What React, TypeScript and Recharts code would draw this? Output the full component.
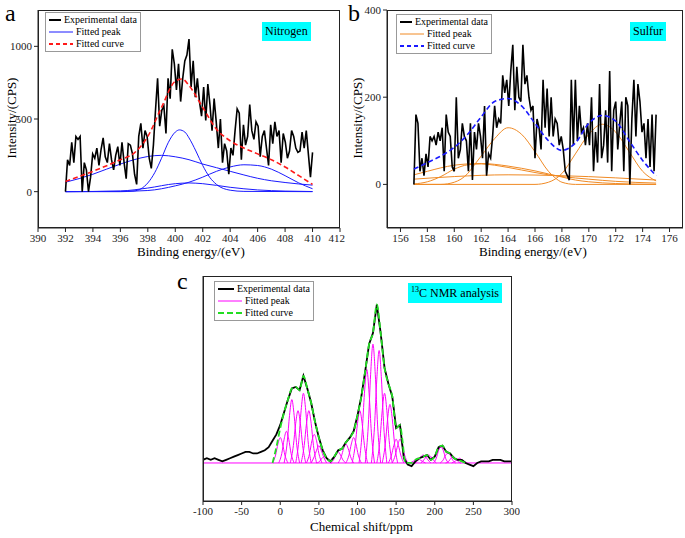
import { LineChart, Line, XAxis, YAxis, ReferenceLine } from "recharts";

const font = "'Liberation Serif', 'DejaVu Serif', serif";

// ---- panel a: nitrogen ----
const nExp = [0, 220, 180, 340, 200, 380, 360, 380, 0, 200, 150, 0, 100, 260, 230, 300, 180, 290, 370, 240, 200, 330, 220, 150, 250, 310, 180, 340, 200, 90, 330, 320, 260, 120, 50, 380, 470, 300, 420, 380, 230, 160, 320, 560, 780, 450, 560, 590, 400, 780, 640, 980, 880, 700, 880, 620, 780, 900, 940, 1050, 720, 900, 650, 780, 620, 520, 720, 490, 740, 600, 420, 640, 480, 300, 500, 200, 330, 280, 120, 300, 250, 420, 570, 540, 220, 460, 320, 380, 600, 420, 360, 480, 450, 240, 380, 420, 300, 180, 460, 330, 480, 380, 420, 200, 400, 340, 230, 280, 420, 380, 300, 270, 280, 410, 300, 420, 260, 100, 270];
const nCurve = [[392, 70], [394, 140], [396, 220], [397, 265], [398, 380], [399, 580], [400, 760], [400.5, 775], [401, 730], [402, 580], [403, 430], [404, 350], [405, 300], [406, 260], [407, 220], [408, 170], [409, 110], [410, 50]];
const nPeaks = [
  [[392, 65], [393, 90], [394, 120], [395, 155], [396, 190], [397, 220], [398, 242], [399, 250], [400, 240], [401, 220], [402, 190], [403, 165], [404, 140], [405, 115], [406, 92], [407, 75], [408, 63], [409, 53], [410, 45]],
  [[392, 0], [396, 0], [397, 5], [398, 60], [398.5, 130], [399, 230], [399.5, 340], [400, 410], [400.3, 425], [400.7, 410], [401, 370], [401.5, 280], [402, 180], [402.5, 100], [403, 50], [404, 10], [405, 2], [410, 0]],
  [[392, 0], [396, 2], [398, 8], [400, 40], [401, 65], [402, 100], [403, 140], [404, 170], [405, 185], [406, 180], [407, 155], [408, 110], [409, 60], [410, 20]],
  [[392, 0], [396, 5], [398, 25], [400, 55], [401, 60], [402, 55], [404, 30], [406, 12], [408, 4], [410, 1]],
];

// ---- panel b: sulfur ----
const sExp = [0, 160, 140, 30, 60, 20, 70, 40, 110, 100, 110, 90, 120, 100, 130, 30, 160, 120, 110, 40, 30, 200, 60, 80, 140, 110, 100, 30, 140, 10, 120, 80, 140, 110, 60, 180, 20, 70, 60, 110, 180, 130, 150, 140, 250, 210, 240, 180, 260, 320, 170, 270, 200, 190, 320, 230, 250, 200, 170, 180, 60, 150, 130, 80, 240, 130, 220, 110, 200, 110, 150, 140, 90, 110, 80, 30, 20, 10, 240, 90, 240, 100, 180, 120, 130, 90, 140, 90, 200, 30, 120, 50, 230, 60, 90, 170, 50, 260, 30, 170, 190, 80, 140, 190, 30, 200, 180, 0, 150, 240, 110, 230, 190, 120, 140, 60, 150, 40, 160, 30, 160];
const sCurve = [[157, 35], [158, 50], [159, 65], [160, 85], [161, 115], [162, 155], [163, 190], [164, 197], [165, 180], [166, 140], [167, 100], [168, 78], [169, 95], [170, 140], [171, 158], [172, 145], [173, 100], [174, 55], [175, 20]];
const sPeaks = [
  [[157, 0], [159, 0], [160, 5], [161, 25], [161.5, 45], [162, 65], [163, 105], [164, 130], [165, 115], [166, 75], [167, 30], [167.5, 15], [168, 5], [169, 0], [175, 0]],
  [[157, 0], [166, 0], [167, 5], [168, 25], [169, 70], [170, 115], [171, 138], [172, 120], [173, 75], [174, 30], [175, 8]],
  [[157, 22], [158, 30], [159, 38], [160, 44], [161, 47], [162, 48], [163, 46], [164, 42], [165, 37], [166, 31], [167, 24], [168, 17], [169, 10], [170, 6], [172, 2], [175, 0]],
  [[157, 12], [160, 18], [164, 22], [168, 20], [172, 15], [175, 10]],
  [[157, 1], [158, 6], [159, 18], [160, 35], [161, 45], [162, 47], [163, 44], [165, 33], [167, 22], [168, 18], [170, 12], [172, 7], [175, 3]],
];

// ---- panel c: 13C NMR ----
const cShift = [-100, -95, -90, -85, -80, -75, -70, -65, -60, -55, -50, -45, -40, -35, -30, -25, -20, -15, -10, -5, 0, 5, 10, 15, 20, 25, 30, 35, 40, 45, 50, 55, 60, 65, 70, 75, 80, 85, 90, 95, 100, 105, 110, 115, 120, 125, 130, 135, 140, 145, 150, 155, 160, 165, 170, 175, 180, 185, 190, 195, 200, 205, 210, 215, 220, 225, 230, 235, 240, 245, 250, 255, 260, 265, 270, 275, 280, 285, 290, 295, 300];
const cExp = [2, 3, 2, 3, 2, 1, 2, 3, 4, 5, 6, 7, 7, 6, 6, 7, 8, 10, 14, 18, 24, 32, 40, 47, 48, 46, 55, 47, 38, 26, 16, 8, 3, 1, 4, 8, 9, 13, 16, 20, 30, 42, 58, 75, 82, 100, 82, 60, 50, 42, 22, 24, 3, -1, -2, 1, 3, 4, 5, 2, 4, 10, 11, 7, 6, 3, 2, 2, 0, -1, -2, 0, 1, 1, 1, 2, 2, 2, 1, 1, 1];
const cCurve = [[-10, 0], [-5, 10], [0, 22], [5, 32], [10, 40], [15, 47], [20, 48], [25, 46], [30, 55], [35, 47], [40, 38], [45, 26], [50, 16], [55, 8], [60, 3], [65, 1], [70, 4], [75, 8], [80, 9], [85, 13], [90, 16], [95, 20], [100, 30], [105, 42], [110, 58], [115, 75], [120, 82], [125, 100], [130, 82], [135, 60], [140, 50], [145, 42], [150, 22], [155, 24], [158, 15], [162, 0], [170, 0], [175, 2], [180, 3], [185, 4], [190, 5], [195, 2], [200, 4], [205, 10], [210, 11], [215, 7], [220, 6], [225, 3], [230, 2], [235, 1], [240, 0]];
const peakOffsets = [-10, -6, -3, 0, 3, 6, 10];
const cPeaks: [number, number[]][] = [
  [0, [0, 5, 12, 16, 12, 5, 0]], [8, [0, 6, 15, 20, 15, 6, 0]], [15, [0, 13, 30, 40, 30, 13, 0]],
  [23, [0, 11, 25, 33, 25, 11, 0]], [30, [0, 14, 33, 44, 33, 14, 0]], [37, [0, 11, 25, 33, 25, 11, 0]],
  [44, [0, 6, 14, 18, 14, 6, 0]], [50, [0, 4, 8, 11, 8, 4, 0]], [57, [0, 1, 3, 4, 3, 1, 0]],
  [75, [0, 2, 5, 7, 5, 2, 0]], [85, [0, 4, 9, 12, 9, 4, 0]], [95, [0, 5, 12, 16, 12, 5, 0]],
  [103, [0, 11, 25, 33, 25, 11, 0]], [112, [0, 19, 44, 59, 44, 19, 0]], [120, [0, 24, 56, 75, 56, 24, 0]],
  [128, [0, 23, 53, 71, 53, 23, 0]], [135, [0, 14, 33, 44, 33, 14, 0]], [142, [0, 12, 28, 37, 28, 12, 0]],
  [150, [0, 5, 11, 15, 11, 5, 0]], [155, [0, 5, 11, 15, 11, 5, 0]], [178, [0, 1, 2, 3, 2, 1, 0]],
  [185, [0, 2, 4, 5, 4, 2, 0]], [192, [0, 2, 4, 5, 4, 2, 0]], [208, [0, 3, 8, 10, 8, 3, 0]],
  [217, [0, 2, 5, 6, 5, 2, 0]], [224, [0, 1, 3, 4, 3, 1, 0]], [232, [0, 1, 2, 3, 2, 1, 0]],
];

const pts = (arr: number[][]) => arr.map(([x, y]) => ({ x, y }));
const spread = (vals: number[], x0: number, x1: number) =>
  vals.map((y, i) => ({ x: x0 + ((x1 - x0) * i) / (vals.length - 1), y }));

const tickStyle = { fontSize: 11, fill: "#222", fontFamily: font };

const Legend = ({ left, top, width, items }: { left: number; top: number; width: number; items: { label: string; color: string; dash?: string; w: number }[] }) => (
  <div style={{ position: "absolute", left, top, width, border: "1px solid #999", background: "#fff", padding: "1px 3px", fontFamily: font, fontSize: 10, lineHeight: "12px", whiteSpace: "nowrap" }}>
    {items.map((it) => (
      <div key={it.label} style={{ display: "flex", alignItems: "center", gap: 3 }}>
        <svg width={24} height={8}><line x1={0} y1={4} x2={24} y2={4} stroke={it.color} strokeWidth={it.w} strokeDasharray={it.dash} /></svg>
        <span>{it.label}</span>
      </div>
    ))}
  </div>
);

const Tag = ({ left, top, children }: { left: number; top: number; children: any }) => (
  <div style={{ position: "absolute", left, top, background: "#00ffff", padding: "2px 3px", fontFamily: font, fontSize: 12 }}>{children}</div>
);

const Txt = ({ left, top, size, children, rotate }: { left: number; top: number; size: number; children: any; rotate?: boolean }) => (
  <div style={{ position: "absolute", left, top, fontFamily: font, fontSize: size, whiteSpace: "nowrap", transform: rotate ? "translate(-50%,-50%) rotate(-90deg)" : undefined }}>{children}</div>
);

const Box = ({ l, t, r, b }: { l: number; t: number; r: number; b: number }) => (
  <div style={{ position: "absolute", left: l, top: t, width: r - l, height: b - t, border: "1px solid #222", boxSizing: "border-box", pointerEvents: "none" }} />
);

const Frame = ({ xTicks, xDomain, yTicks, yDomain, yWidth }: any) => [
  <XAxis key="xb" xAxisId="b" dataKey="x" type="number" domain={xDomain} ticks={xTicks} tick={tickStyle} stroke="#222" height={37} tickSize={4} allowDataOverflow />,
  <YAxis key="yl" yAxisId="l" type="number" domain={yDomain} ticks={yTicks} tick={yTicks ? tickStyle : false} tickLine={!!yTicks} stroke="#222" width={yWidth} tickSize={4} allowDataOverflow />,
];

const ser = (key: string, data: any[], color: string, w: number, dash?: string, type: any = "monotone") => (
  <Line key={key} xAxisId="b" yAxisId="l" data={data} dataKey="y" type={type} stroke={color} strokeWidth={w} strokeDasharray={dash} dot={false} isAnimationActive={false} />
);

export default function App() {
  return (
    <div style={{ position: "absolute", left: 0, top: 0, width: 685, height: 538, background: "#fff", fontFamily: font }}>
      <div style={{ position: "absolute", left: 0, top: 0 }}>
        <LineChart width={345} height={265} margin={{ top: 10, right: 5, bottom: 0, left: 0 }} style={{ fontFamily: font }}>
          {Frame({ xTicks: [390, 392, 394, 396, 398, 400, 402, 404, 406, 408, 410, 412], xDomain: [390, 412], yTicks: [0, 500, 1000], yDomain: [-250, 1250], yWidth: 38 })}
          {nPeaks.map((p, i) => ser("np" + i, pts(p), "#1a1aff", 1))}
          {ser("nexp", spread(nExp, 392, 410), "#000", 1.6, undefined, "linear")}
          {ser("nc", pts(nCurve), "#ff1a1a", 1.6, "5 3")}
        </LineChart>
      </div>
      <div style={{ position: "absolute", left: 340, top: 0 }}>
        <LineChart width={345} height={265} margin={{ top: 10, right: 2, bottom: 0, left: 0 }} style={{ fontFamily: font }}>
          {Frame({ xTicks: [156, 158, 160, 162, 164, 166, 168, 170, 172, 174, 176], xDomain: [155, 177], yTicks: [0, 200, 400], yDomain: [-100, 400], yWidth: 47 })}
          {sPeaks.map((p, i) => ser("sp" + i, pts(p), "#f08a24", 1))}
          {ser("sexp", spread(sExp, 157, 175), "#000", 1.6, undefined, "linear")}
          {ser("sc", pts(sCurve), "#1a1aff", 1.6, "5 3")}
        </LineChart>
      </div>
      <div style={{ position: "absolute", left: 170, top: 270 }}>
        <LineChart width={350} height={268} margin={{ top: 6, right: 8, bottom: 0, left: 0 }} style={{ fontFamily: font }}>
          {Frame({ xTicks: [-100, -50, 0, 50, 100, 150, 200, 250, 300], xDomain: [-100, 300], yDomain: [-24, 118], yWidth: 33 })}
          <ReferenceLine xAxisId="b" yAxisId="l" y={0} stroke="#ff00ff" strokeWidth={1} />
          {cPeaks.map(([c, v], i) => ser("cp" + i, peakOffsets.map((o, j) => ({ x: c + o, y: v[j] })), "#ff00ff", 1))}
          {ser("cexp", cShift.map((x, i) => ({ x, y: cExp[i] })), "#000", 1.8, undefined, "linear")}
          {ser("cc", pts(cCurve), "#22dd22", 1.8, "6 3")}
        </LineChart>
      </div>

      <Box l={38} t={10} r={340} b={228} />
      <Box l={387} t={10} r={683} b={228} />
      <Box l={203} t={276} r={512} b={502} />

      <Txt left={5} top={0} size={24}>a</Txt>
      <Txt left={348} top={0} size={24}>b</Txt>
      <Txt left={177} top={268} size={24}>c</Txt>
      <Txt left={12} top={118} size={13} rotate>Intensity/(CPS)</Txt>
      <Txt left={358} top={118} size={13} rotate>Intensity/(CPS)</Txt>
      <Txt left={137} top={244} size={13}>Binding energy/(eV)</Txt>
      <Txt left={479} top={244} size={13}>Binding energy/(eV)</Txt>
      <Txt left={310} top={519} size={13}>Chemical shift/ppm</Txt>

      <Legend left={45} top={12} width={88} items={[{ label: "Experimental data", color: "#000", w: 2 }, { label: "Fitted peak", color: "#1a1aff", w: 1 }, { label: "Fitted curve", color: "#ff1a1a", w: 2, dash: "4 3" }]} />
      <Legend left={396} top={14} width={88} items={[{ label: "Experimental data", color: "#000", w: 2 }, { label: "Fitted peak", color: "#f08a24", w: 1 }, { label: "Fitted curve", color: "#1a1aff", w: 2, dash: "4 3" }]} />
      <Legend left={214} top={281} width={92} items={[{ label: "Experimental data", color: "#000", w: 2 }, { label: "Fitted peak", color: "#ff00ff", w: 1 }, { label: "Fitted curve", color: "#22dd22", w: 2, dash: "6 3" }]} />
      <Tag left={262} top={22}>Nitrogen</Tag>
      <Tag left={630} top={22}>Sulfur</Tag>
      <Tag left={408} top={283}><sup style={{ fontSize: 8 }}>13</sup>C NMR analysis</Tag>
    </div>
  );
}
